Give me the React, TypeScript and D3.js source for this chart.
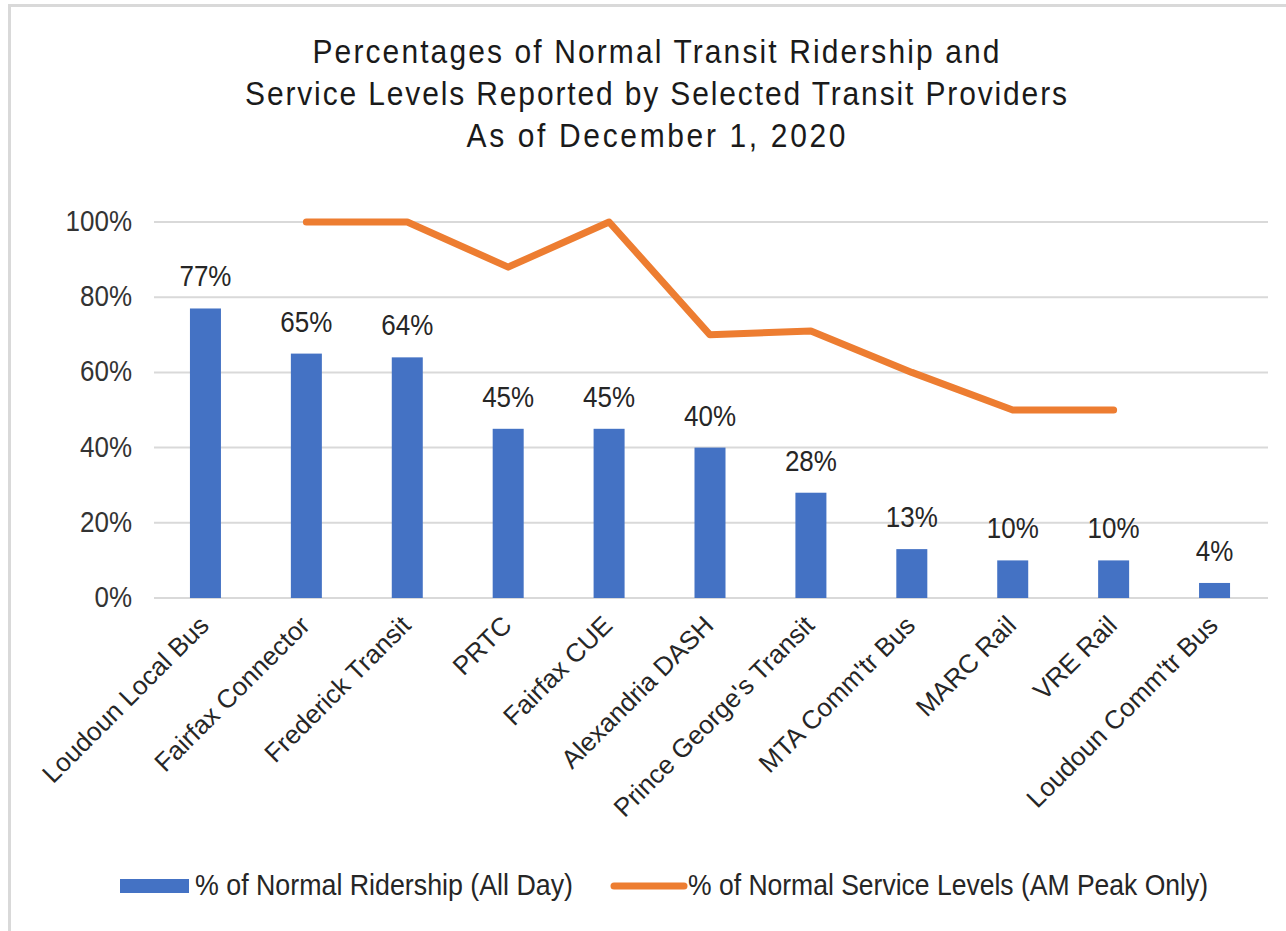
import React from "react";
import * as d3 from "d3";

const categories = [
  "Loudoun Local Bus",
  "Fairfax Connector",
  "Frederick Transit",
  "PRTC",
  "Fairfax CUE",
  "Alexandria DASH",
  "Prince George's Transit",
  "MTA Comm'tr Bus",
  "MARC Rail",
  "VRE Rail",
  "Loudoun Comm'tr Bus",
];
const ridership = [77, 65, 64, 45, 45, 40, 28, 13, 10, 10, 4];
const serviceLevels: (number | null)[] = [null, 100, 100, 88, 100, 70, 71, 60, 50, 50, null];
const yTicks = [0, 20, 40, 60, 80, 100];
const titleLines = [
  "Percentages of Normal Transit Ridership and",
  "Service Levels Reported by Selected Transit Providers",
  "As of December 1, 2020",
];
const legendLabels = ["% of Normal Ridership (All Day)", "% of Normal Service Levels (AM Peak Only)"];

const W = 1286;
const H = 931;
const FONT = "'Liberation Sans', Arial, sans-serif";
const BLUE = "#4472C4";
const ORANGE = "#ED7D31";
const SY = 1.12;

export default function App() {
  const x = d3.scaleBand<string>().domain(categories).range([155, 1265]).paddingInner(0).paddingOuter(0);
  const y = d3.scaleLinear().domain([0, 100]).range([598, 222]);
  const barW = 31;
  const cx = (c: string) => (x(c) as number) + x.bandwidth() / 2;

  const line = d3
    .line<number | null>()
    .defined((d) => d !== null)
    .x((_, i) => cx(categories[i]))
    .y((d) => y(d as number));

  const titleWidths = [687, 822, 379];
  const titleBaselines = [63, 105, 147];

  return (
    <svg
      width={W}
      height={H}
      style={{ position: "absolute", left: 0, top: 0, background: "#fff" }}
      fontFamily={FONT}
    >
      <rect x={0} y={0} width={W} height={H} fill="#fff" />
      {/* frame */}
      <line x1={9.5} y1={5} x2={9.5} y2={H} stroke="#d9d9d9" strokeWidth={3} />
      <line x1={8} y1={5.5} x2={W} y2={5.5} stroke="#d9d9d9" strokeWidth={3} />

      {/* title */}
      {titleLines.map((t, i) => (
        <text
          key={i}
          transform={`translate(${W / 2 + 13},${titleBaselines[i]}) scale(1,${SY})`}
          textAnchor="middle"
          fontSize={30}
          fill="#1a1a1a"
          textLength={titleWidths[i]}
          lengthAdjust="spacing"
        >
          {t}
        </text>
      ))}

      {/* gridlines */}
      {yTicks.map((t) => (
        <line key={t} x1={154} x2={1268} y1={y(t)} y2={y(t)} stroke="#d9d9d9" strokeWidth={2} />
      ))}
      {/* y labels */}
      {yTicks.map((t) => (
        <text
          key={"l" + t}
          transform={`translate(132,${y(t) + 9}) scale(1,${SY})`}
          textAnchor="end"
          fontSize={26}
          fill="#333"
        >
          {t}%
        </text>
      ))}

      {/* bars */}
      {ridership.map((v, i) => (
        <rect
          key={i}
          x={cx(categories[i]) - barW / 2}
          y={y(v)}
          width={barW}
          height={y(0) - y(v)}
          fill={BLUE}
        />
      ))}
      {/* bar labels */}
      {ridership.map((v, i) => (
        <text
          key={"d" + i}
          transform={`translate(${cx(categories[i])},${y(v) - 22}) scale(1,${SY})`}
          textAnchor="middle"
          fontSize={26}
          fill="#262626"
        >
          {v}%
        </text>
      ))}

      {/* service line */}
      <path
        d={line(serviceLevels) || ""}
        fill="none"
        stroke={ORANGE}
        strokeWidth={7}
        strokeLinejoin="round"
        strokeLinecap="round"
      />

      {/* x labels */}
      {categories.map((c) => (
        <text
          key={c}
          transform={`translate(${cx(c) + 5},${627}) rotate(-45)`}
          textAnchor="end"
          fontSize={26}
          fill="#262626"
        >
          {c}
        </text>
      ))}

      {/* legend */}
      <rect x={120} y={879} width={69} height={14} fill={BLUE} />
      <text transform={`translate(195,895) scale(1,${SY})`} fontSize={26} fill="#262626" textLength={378} lengthAdjust="spacingAndGlyphs">
        {legendLabels[0]}
      </text>
      <line x1={614} x2={684} y1={886} y2={886} stroke={ORANGE} strokeWidth={7} strokeLinecap="round" />
      <text transform={`translate(688,895) scale(1,${SY})`} fontSize={26} fill="#262626" textLength={520} lengthAdjust="spacingAndGlyphs">
        {legendLabels[1]}
      </text>
    </svg>
  );
}
